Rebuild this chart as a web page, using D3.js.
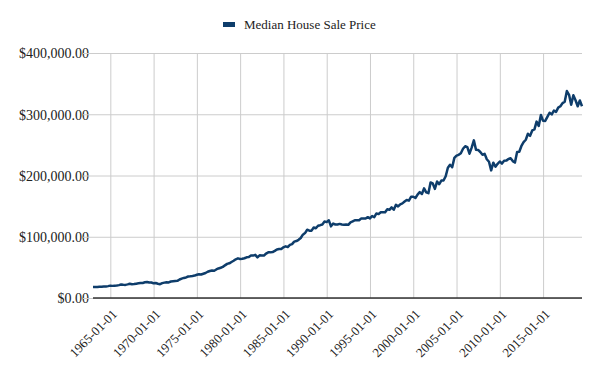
<!DOCTYPE html>
<html><head><meta charset="utf-8">
<script src="https://cdn.jsdelivr.net/npm/d3@7"></script>
<style>
body{margin:0;background:#fff;}
svg{display:block;}
svg text{font-family:"Liberation Serif","DejaVu Serif",serif;}
</style></head>
<body><svg id="c" width="600" height="371"></svg>
<script>
const seriesName = "Median House Sale Price";
const startYear = 1963;
// quarterly median prices, 1963Q1 .. 2019Q3
const prices = [
17800,18000,17900,18500, 18500,18900,18900,19400, 20200,19800,20200,20300,
21000,22100,21500,21400, 22300,23300,22600,22800, 23400,24000,24600,24600,
25700,26200,25300,25300, 23900,24400,23200,22600, 24300,25100,25600,25400,
26900,27300,27700,28000, 30200,31600,32800,33600, 35100,35400,35900,36600,
37900,38700,38400,39600, 40800,42800,44000,44800, 44500,46600,48200,49400,
50800,53300,55700,56600, 58800,60800,63200,64700, 63700,64000,64900,66400,
66800,69400,69200,70400, 66400,69600,69300,69300, 72600,74500,74500,75000,
77000,79300,80100,80000, 82800,84300,83200,86800, 88000,92100,93000,95000,
97900,103400,106000,111500, 110000,110000,115000,113900, 118000,118900,120000,124800,
123900,126800,117000,121500, 120000,119900,121000,120000, 119500,120000,119500,123500,
125000,127000,127000,127000, 130000,130000,129700,132000, 130000,133900,132000,138000,
137000,139900,140000,140000, 145000,144000,148000,144100, 152200,149500,153000,154500,
157400,160000,159000,165300, 165300,163200,168800,172900, 169800,179000,172500,171100,
188700,187200,178100,190100, 186000,191800,191900,198800, 212700,217600,213500,228800,
232500,233700,236400,243600, 247700,246300,235600,245400, 257400,242200,241800,238400,
233900,235300,226500,222500, 208400,220900,214300,219000, 222900,219500,224100,224300,
226900,228100,223500,221100, 238400,238700,248200,254600, 258400,268100,264800,273600,
275200,288000,281000,298900, 289200,289100,295800,302500, 299800,306000,303800,310900,
313100,318200,320500,337900, 331800,315600,330900,322800, 313000,322500,313000
];
const yTicks = [0,100000,200000,300000,400000];
const xTickYears = [1965,1970,1975,1980,1985,1990,1995,2000,2005,2010,2015];

const data = prices.map((v,i)=>({date:new Date(startYear + Math.floor(i/4), (i%4)*3, 1), value:v}));

const svg = d3.select("#c");
const m = {left:93, right:18, top:53, bottom:73};
const W = 600, H = 371;
const x = d3.scaleTime().domain(d3.extent(data,d=>d.date)).range([m.left, W-m.right]);
const y = d3.scaleLinear().domain([0,400000]).range([H-m.bottom, m.top]);

const fmt = d3.format("$,.2f");
const fmtDate = d3.timeFormat("%Y-%m-%d");
const FONT = "Liberation Serif, DejaVu Serif, serif";

// horizontal grid
const gy = svg.append("g").attr("transform",`translate(${m.left},0)`)
  .call(d3.axisLeft(y).tickValues(yTicks).tickFormat(fmt).tickSize(-(W-m.right-m.left)).tickPadding(10))
  .attr("font-family",FONT).attr("font-size",14);
gy.select(".domain").remove();
gy.selectAll(".tick line").attr("stroke","#cccccc");
gy.selectAll(".tick").append("line").attr("x1",-10).attr("x2",0).attr("stroke","#cccccc");
gy.selectAll(".tick text").attr("fill","#222").attr("x",-4).attr("dy","0.35em");

// vertical grid
const xTicks = xTickYears.map(yr=>new Date(yr,0,1));
const gx = svg.append("g").attr("transform",`translate(0,${H-m.bottom})`)
  .call(d3.axisBottom(x).tickValues(xTicks).tickFormat(fmtDate).tickSize(-(H-m.bottom-m.top)).tickSizeOuter(0))
  .attr("font-family",FONT).attr("font-size",13);
gx.select(".domain").remove();
gx.selectAll(".tick line").attr("stroke","#cccccc");
gx.selectAll(".tick text").attr("fill","#222")
  .attr("text-anchor","end").attr("dy",0).attr("y",0)
  .attr("transform","translate(7,17) rotate(-45)");

// baseline over grid
svg.append("line").attr("x1",m.left).attr("x2",W-m.right).attr("y1",y(0)).attr("y2",y(0)).attr("stroke","#333").attr("stroke-width",1.5);

// line
svg.append("path").datum(data)
  .attr("fill","none").attr("stroke","#0e3d6b").attr("stroke-width",2.5).attr("stroke-linejoin","round")
  .attr("d", d3.line().x(d=>x(d.date)).y(d=>y(d.value)));

// legend
const lg = svg.append("g");
lg.append("rect").attr("x",223).attr("y",22).attr("width",12).attr("height",5).attr("fill","#0e3d6b");
lg.append("text").attr("x",244).attr("y",29).attr("font-family",FONT).attr("font-size",13).attr("fill","#222").text(seriesName);
</script></body></html>
